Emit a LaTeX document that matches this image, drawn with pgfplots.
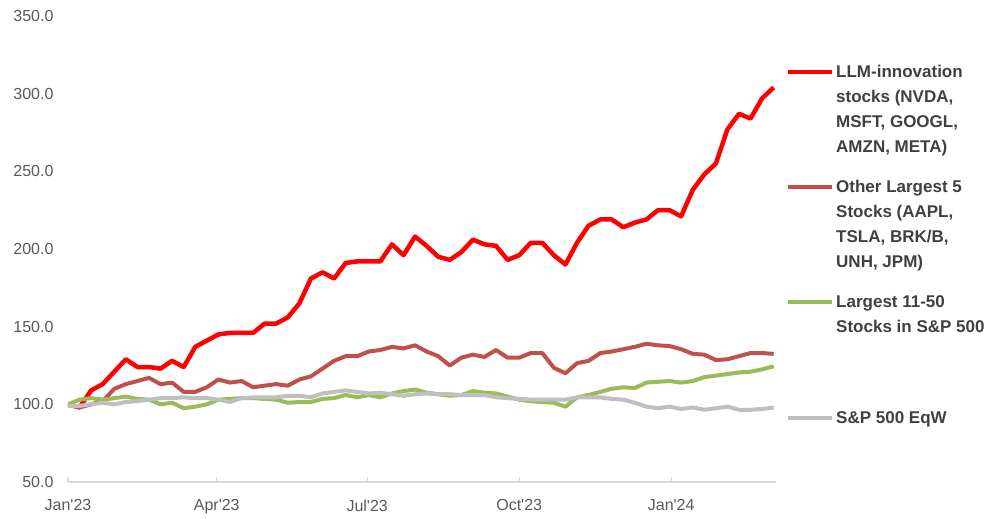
\documentclass[border=0pt]{standalone}
\usepackage{pgfplots}
\pgfplotsset{compat=1.18}
\usepackage{pgfplotstable}
\usepackage{fontspec}
\setmainfont{Liberation Sans}

\definecolor{cLLM}{HTML}{FF0000}
\definecolor{cOth}{HTML}{C0504D}
\definecolor{cMid}{HTML}{9BBB59}
\definecolor{cEqw}{HTML}{BFBFBF}
\definecolor{cTick}{HTML}{595959}
\definecolor{cAxis}{HTML}{D9D9D9}
\definecolor{cLeg}{HTML}{404040}

% weekly index (w=0 is first week of Jan'23), rebased to 100
\pgfplotstableread{
w  llm  oth   mid   eqw
0  100  100   100   99
1  98   98    103   99
2  109  100   104   100
3  113  102   103   101
4  121  110   104   100
5  129  113   105   101.5
6  124  115   103.5 102
7  124  117   103   103
8  123  113   100   104
9  128  114   101   104
10 124  108   97.5  104.5
11 137  108   98.5  104
12 141  111   100   104
13 145  116   103   103
14 146  114   103.5 101.5
15 146  115   104   104
16 146  111   104   104.5
17 152  112   103.5 104.5
18 152  113   103   104.5
19 156  112   101   105.5
20 165  116   101.5 105.5
21 181  118   101.5 104.5
22 185  123   103.5 107
23 181  128   104   108
24 191  131   106   109
25 192  131   104.5 108
26 192  134   106   107
27 192  135   104.5 107.5
28 203  137   107   106.5
29 196  136   108.5 105.5
30 208  138   109.5 106.5
31 202  134   107.5 107
32 195  131   106.5 106.5
33 193  125   105.5 106.5
34 198  130   106   106
35 206  132   108.5 106
36 203  130.5 107.5 106
37 202  135   107   104.5
38 193  130   105   104
39 196  130   103   103.5
40 204  133   102   103
41 204  133   101.5 103
42 196  123.5 101   103
43 190  120   98.5  103
44 204  126.5 104.5 104.5
45 215  128   106   104.5
46 219  133   108   104.5
47 219  134   110   103.5
48 214  135.5 111   103
49 217  137   110.5 101
50 219  139   114   98.5
51 225  138   114.5 97.5
52 225  137.5 115   98.5
53 221  135.5 114   97
54 238  132.5 115   98
55 248  132   117.5 96.5
56 255  128.5 118.5 97.5
57 277  129   119.5 98.5
58 287  131   120.5 96.5
59 284  133   121   96.5
60 297  133   122.5 97
61 304  132.5 124.5 98
}\perf

\newcommand\legtext[1]{\vtop{\baselineskip=25bp #1}}

\begin{document}
\begin{tikzpicture}
\path[use as bounding box] (-68bp,-37bp) rectangle (922bp,482bp);
\begin{axis}[
    scale only axis, width=708bp, height=466bp,
    xmin=0, xmax=61.2, ymin=50, ymax=350,
    axis x line*=bottom, axis y line*=left,
    x axis line style={cAxis, line width=1.5bp, -},
    y axis line style={draw=none},
    xtick={0,12.86,25.86,39,52.14},
    xticklabels={Jan\textquotesingle23,Apr\textquotesingle23,Jul\textquotesingle23,Oct\textquotesingle23,Jan\textquotesingle24},
    ytick={50,100,...,350},
    tick align=inside, major tick length=5bp,
    xtick style={cAxis, line width=1.2bp},
    ytick style={draw=none},
    tick label style={font=\fontsize{16bp}{19bp}\selectfont, text=cTick,
                      /pgf/number format/assume math mode=true},
    yticklabel style={xshift=-11bp, /pgf/number format/.cd, fixed, fixed zerofill, precision=1},
    xticklabel style={yshift=-14bp},
    every axis plot/.append style={line join=round, no markers},
]
\addplot[cLLM, line width=4.5bp] table[x=w, y=llm] {\perf};
\addplot[cOth, line width=4bp] table[x=w, y=oth] {\perf};
\addplot[cMid, line width=4bp] table[x=w, y=mid] {\perf};
\addplot[cEqw, line width=4bp] table[x=w, y=eqw] {\perf};
\end{axis}

% ---- legend ----
\begin{scope}[every node/.style={anchor=base west, inner sep=0, text=cLeg,
    font=\fontsize{17bp}{25bp}\selectfont\bfseries}]
\draw[cLLM, line width=4.5bp] (720bp,410bp) -- (764bp,410bp);
\node at (768bp,404bp) {\legtext{\hbox{LLM-innovation}\hbox{stocks (NVDA,}\hbox{MSFT, GOOGL,}\hbox{AMZN, META)}}};
\draw[cOth, line width=4bp] (720bp,295bp) -- (764bp,295bp);
\node at (768bp,289bp) {\legtext{\hbox{Other Largest 5}\hbox{Stocks (AAPL,}\hbox{TSLA, BRK/B,}\hbox{UNH, JPM)}}};
\draw[cMid, line width=4bp] (720bp,180bp) -- (764bp,180bp);
\node at (768bp,174bp) {\legtext{\hbox{Largest 11-50}\hbox{Stocks in S\&P 500}}};
\draw[cEqw, line width=4bp] (720bp,64bp) -- (764bp,64bp);
\node at (768bp,58bp) {\legtext{\hbox{S\&P 500 EqW}}};
\end{scope}
\end{tikzpicture}
\end{document}
